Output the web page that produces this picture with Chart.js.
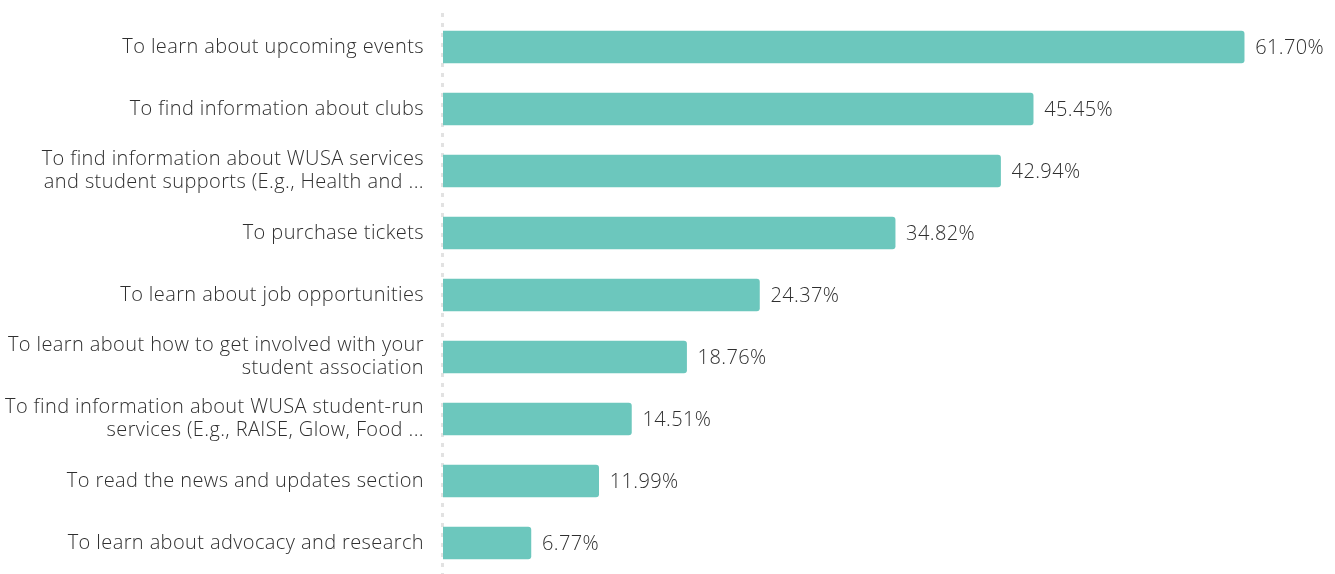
<!DOCTYPE html>
<html>
<head>
<meta charset="utf-8">
<script src="https://cdn.jsdelivr.net/npm/chart.js@4.4.1/dist/chart.umd.min.js"></script>
<style>
  html, body { margin: 0; padding: 0; background: #fff; }
  #wrap { width: 1335px; height: 574px; position: relative; }
</style>
</head>
<body>
<div id="wrap"><canvas id="reasonsChart"></canvas></div>
<script>
// survey answers, multi-line where the label wraps
const reasons = [
    'To learn about upcoming events',
    'To find information about clubs',
    ['To find information about WUSA services', 'and student supports (E.g., Health and ...'],
    'To purchase tickets',
    'To learn about job opportunities',
    ['To learn about how to get involved with your', 'student association'],
    ['To find information about WUSA student-run', 'services (E.g., RAISE, Glow, Food ...'],
    'To read the news and updates section',
    'To learn about advocacy and research'
];
const shares = [61.70, 45.45, 42.94, 34.82, 24.37, 18.76, 14.51, 11.99, 6.77];
const axisMax = 65;

const barColor = '#6cc7bd';
const textColor = '#2f2f2f';
const fontFamily = "'Open Sans', sans-serif";

// slightly looser tracking for all canvas text
const tracking = {
    id: 'tracking',
    beforeDraw(chart) {
        chart.ctx.letterSpacing = '0.4px';
    }
};

// percentage text just past the end of each bar
const valueLabels = {
    id: 'valueLabels',
    afterDatasetsDraw(chart) {
        const ctx = chart.ctx;
        const meta = chart.getDatasetMeta(0);
        ctx.save();
        ctx.font = '300 20px ' + fontFamily;
        ctx.fillStyle = textColor;
        ctx.textAlign = 'left';
        ctx.textBaseline = 'middle';
        meta.data.forEach((bar, i) => {
            ctx.fillText(shares[i].toFixed(2) + '%', bar.x + 11, bar.y + 1);
        });
        ctx.restore();
    }
};

// dotted baseline at zero
const zeroLine = {
    id: 'zeroLine',
    beforeDatasetsDraw(chart) {
        const ctx = chart.ctx;
        const x = chart.scales.x.getPixelForValue(0);
        ctx.save();
        ctx.fillStyle = '#e2e2e2';
        for (let y = 13; y < chart.height; y += 10) {
            ctx.fillRect(x - 2, y, 3, 4);
        }
        ctx.restore();
    }
};

new Chart(document.getElementById('reasonsChart'), {
    type: 'bar',
    data: {
        labels: reasons,
        datasets: [{
            data: shares,
            backgroundColor: barColor,
            borderSkipped: 'start',
            borderRadius: 3,
            barThickness: 32
        }]
    },
    options: {
        indexAxis: 'y',
        responsive: true,
        maintainAspectRatio: false,
        animation: false,
        layout: { padding: { top: 16, right: 48, bottom: 0, left: 0 } },
        plugins: { legend: { display: false }, tooltip: { enabled: false } },
        scales: {
            x: {
                display: false,
                min: 0,
                max: axisMax
            },
            y: {
                afterFit(scale) {
                    scale.width = 443;
                    scale.paddingTop = 0;
                    scale.paddingBottom = 0;
                },
                border: { display: false },
                grid: { display: false, drawTicks: false },
                ticks: {
                    color: textColor,
                    padding: 19,
                    font: { family: fontFamily, size: 20, weight: 300, lineHeight: 1.15 }
                }
            }
        }
    },
    plugins: [tracking, valueLabels, zeroLine]
});
</script>
</body>
</html>
